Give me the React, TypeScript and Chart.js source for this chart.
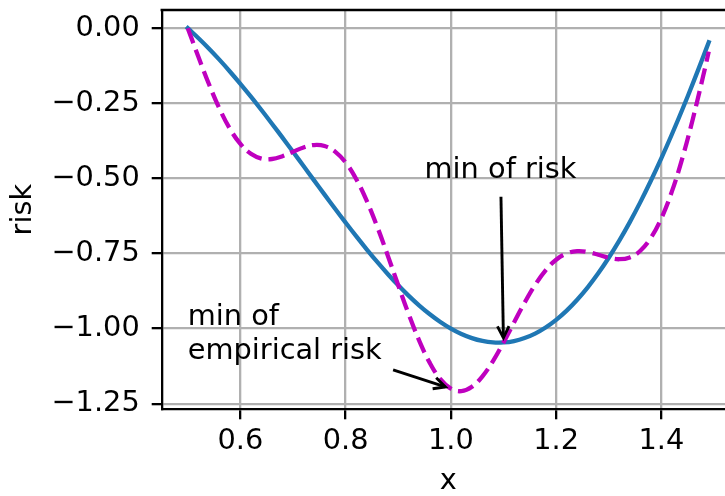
import React, { useEffect, useRef } from "react";
import { Chart, registerables } from "chart.js";

Chart.register(...registerables);

// ---- data ----
const xValues = [
  0.5, 0.52, 0.54, 0.56, 0.58, 0.6, 0.62, 0.64, 0.66, 0.68,
  0.7, 0.72, 0.74, 0.76, 0.78, 0.8, 0.82, 0.84, 0.86, 0.88,
  0.9, 0.92, 0.94, 0.96, 0.98, 1.0, 1.02, 1.04, 1.06, 1.08,
  1.1, 1.12, 1.14, 1.16, 1.18, 1.2, 1.22, 1.24, 1.26, 1.28,
  1.3, 1.32, 1.34, 1.36, 1.38, 1.4, 1.42, 1.44, 1.46, 1.48, 1.49,
];

const riskValues = [
  0, -0.0327, -0.0677, -0.1049, -0.1442, -0.1854, -0.2282, -0.2725, -0.318, -0.3644,
  -0.4115, -0.4589, -0.5066, -0.554, -0.601, -0.6472, -0.6924, -0.7361, -0.7782, -0.8182,
  -0.856, -0.8911, -0.9234, -0.9524, -0.9781, -1.0, -1.018, -1.0318, -1.0412, -1.0461,
  -1.0462, -1.0414, -1.0315, -1.0165, -0.9963, -0.9708, -0.94, -0.9039, -0.8625, -0.8159,
  -0.7641, -0.7073, -0.6456, -0.5791, -0.508, -0.4326, -0.3531, -0.2698, -0.183, -0.0929, -0.0468,
];

const empiricalRiskValues = [
  0, -0.0945, -0.1852, -0.2667, -0.3345, -0.3854, -0.4184, -0.4343, -0.4355, -0.4262,
  -0.4115, -0.3971, -0.389, -0.3922, -0.4108, -0.4472, -0.5021, -0.5743, -0.6606, -0.7564,
  -0.856, -0.9529, -1.0409, -1.1142, -1.1683, -1.2, -1.2082, -1.1936, -1.1588, -1.1079,
  -1.0462, -0.9796, -0.914, -0.8547, -0.8061, -0.7708, -0.7498, -0.7421, -0.745, -0.7541,
  -0.7641, -0.7691, -0.7631, -0.7409, -0.6982, -0.6326, -0.5434, -0.4316, -0.3005, -0.1547, -0.0781,
];

const xTicks = [0.6, 0.8, 1.0, 1.2, 1.4];
const yTicks = [-1.25, -1.0, -0.75, -0.5, -0.25, 0.0];

const xLabel = "x";
const yLabel = "risk";

const annotationTexts = [["min of", "empirical risk"], ["min of risk"]];
const annotationTargets = [[1.0, -1.2], [1.1, -1.05]];
const annotationTextAnchors = [[0.5, -1.1], [0.95, -0.5]];

// ---- styles ----
const FONT = '"DejaVu Sans", sans-serif';
const FS = 28.8;
const X_MIN = 0.4505;
const X_MAX = 1.5395;
const Y_MIN = -1.2686;
const Y_MAX = 0.0604;

const annotationPlugin = {
  id: "mplAnnotations",
  afterDatasetsDraw(chart: any) {
    const { ctx, chartArea } = chart;
    const xs = chart.scales.x;
    const ys = chart.scales.y;
    ctx.save();
    // top and right spines
    ctx.strokeStyle = "#000";
    ctx.lineWidth = 2.3;
    ctx.beginPath();
    ctx.moveTo(chartArea.left - 1.15, chartArea.top);
    ctx.lineTo(chartArea.right, chartArea.top);
    ctx.lineTo(chartArea.right, chartArea.bottom + 1.15);
    ctx.stroke();

    ctx.font = `${FS}px ${FONT}`;
    ctx.fillStyle = "#000";
    ctx.textAlign = "left";
    ctx.textBaseline = "alphabetic";
    const lh = FS * 1.16;
    annotationTexts.forEach((lines, i) => {
      const tx = xs.getPixelForValue(annotationTextAnchors[i][0]);
      const ty = ys.getPixelForValue(annotationTextAnchors[i][1]);
      const firstBaseline = ty - lh * (lines.length - 1);
      lines.forEach((l, j) => ctx.fillText(l, tx, firstBaseline + j * lh));
      const w = Math.max(...lines.map((l) => ctx.measureText(l).width));
      const pad = 5.8;
      const left = tx - pad;
      const right = tx + w + pad;
      const top = firstBaseline - FS * 0.76 - pad;
      const bottom = ty + FS * 0.236 + pad;
      const cx = (left + right) / 2;
      const cy = (top + bottom) / 2;
      const px = xs.getPixelForValue(annotationTargets[i][0]);
      const py = ys.getPixelForValue(annotationTargets[i][1]);
      const dx = px - cx;
      const dy = py - cy;
      const tX = dx !== 0 ? ((dx > 0 ? right : left) - cx) / dx : Infinity;
      const tY = dy !== 0 ? ((dy > 0 ? bottom : top) - cy) / dy : Infinity;
      const t = Math.min(tX, tY);
      const len = Math.hypot(dx, dy);
      const ux = dx / len;
      const uy = dy / len;
      const shrink = 5.8;
      const sx = cx + dx * t + ux * shrink;
      const sy = cy + dy * t + uy * shrink;
      const ex = px - ux * shrink;
      const ey = py - uy * shrink;
      ctx.strokeStyle = "#000";
      ctx.lineWidth = 2.9;
      ctx.lineCap = "butt";
      ctx.lineJoin = "miter";
      ctx.beginPath();
      ctx.moveTo(sx, sy);
      ctx.lineTo(ex, ey);
      ctx.stroke();
      const hl = 0.4 * FS;
      const hw = 0.2 * FS;
      const bx = ex - ux * hl;
      const by = ey - uy * hl;
      ctx.beginPath();
      ctx.moveTo(bx - uy * hw, by + ux * hw);
      ctx.lineTo(ex, ey);
      ctx.lineTo(bx + uy * hw, by - ux * hw);
      ctx.stroke();
    });
    ctx.restore();
  },
};

export default function App() {
  const ref = useRef<HTMLCanvasElement>(null);
  useEffect(() => {
    const canvas = ref.current;
    if (!canvas) return;
    const chart = new Chart(canvas, {
      type: "line",
      data: {
        datasets: [
          {
            label: "risk",
            data: xValues.map((x, i) => ({ x, y: riskValues[i] })),
            borderColor: "#1f77b4",
            borderWidth: 4.3,
            pointRadius: 0,
            tension: 0.4,
            borderCapStyle: "square",
            fill: false,
            order: 2,
          },
          {
            label: "empirical risk",
            data: xValues.map((x, i) => ({ x, y: empiricalRiskValues[i] })),
            borderColor: "#bf00bf",
            borderWidth: 4.3,
            borderDash: [16, 7],
            pointRadius: 0,
            tension: 0.4,
            borderCapStyle: "butt",
            fill: false,
            order: 1,
          },
        ],
      },
      options: {
        responsive: false,
        animation: false,
        events: [],
        devicePixelRatio: 1,
        layout: { padding: { left: 0, top: 10, right: 5.2, bottom: 0 } },
        plugins: { legend: { display: false }, tooltip: { enabled: false } },
        scales: {
          x: {
            type: "linear",
            min: X_MIN,
            max: X_MAX,
            afterBuildTicks: (s: any) => {
              s.ticks = xTicks.map((v) => ({ value: v }));
            },
            afterFit: (s: any) => {
              s.height = 86.7;
              s.paddingLeft = 0;
              s.paddingRight = 0;
              s.paddingTop = 0;
              s.paddingBottom = 0;
            },
            ticks: {
              color: "#000",
              font: { family: FONT, size: FS },
              padding: 5,
              maxRotation: 0,
              autoSkip: false,
              callback: (v: any) => Number(v).toFixed(1),
            },
            grid: {
              color: "#b0b0b0",
              lineWidth: 2.3,
              tickColor: "#000",
              tickLength: 10,
              tickWidth: 2.3,
              drawTicks: true,
            },
            border: { color: "#000", width: 2.3 },
            title: {
              display: true,
              text: xLabel,
              color: "#000",
              font: { family: FONT, size: FS, lineHeight: 1 },
              padding: { top: 0, bottom: 0 },
            },
          },
          y: {
            type: "linear",
            min: Y_MIN,
            max: Y_MAX,
            afterBuildTicks: (s: any) => {
              s.ticks = yTicks.map((v) => ({ value: v }));
            },
            afterFit: (s: any) => {
              s.width = 161.7;
              s.paddingLeft = 0;
              s.paddingRight = 0;
              s.paddingTop = 0;
              s.paddingBottom = 0;
            },
            ticks: {
              color: "#000",
              font: { family: FONT, size: FS },
              padding: 12,
              autoSkip: false,
              callback: (v: any) => Number(v).toFixed(2).replace("-", "\u2212"),
            },
            grid: {
              color: "#b0b0b0",
              lineWidth: 2.3,
              tickColor: "#000",
              tickLength: 10,
              tickWidth: 2.3,
              drawTicks: true,
            },
            border: { color: "#000", width: 2.3 },
            title: {
              display: true,
              text: yLabel,
              color: "#000",
              font: { family: FONT, size: FS, lineHeight: 1 },
              padding: { top: 9, bottom: 0 },
            },
          },
        },
      },
      plugins: [annotationPlugin],
    } as any);
    return () => chart.destroy();
  }, []);

  return (
    <div
      style={{
        position: "absolute",
        left: 0,
        top: 0,
        width: 725,
        height: 496,
        overflow: "hidden",
        background: "#fff",
      }}
    >
      <canvas ref={ref} width={740} height={496} style={{ display: "block" }} />
    </div>
  );
}
